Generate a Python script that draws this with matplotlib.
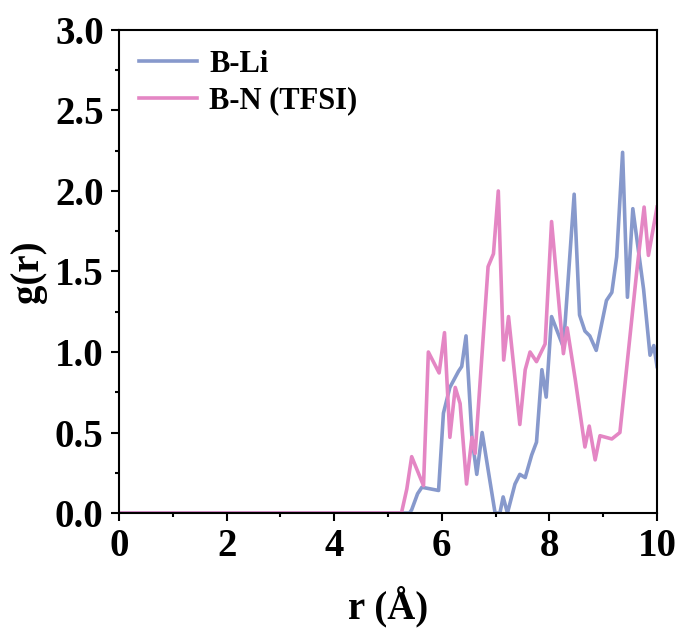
import matplotlib.pyplot as plt
from matplotlib.ticker import MultipleLocator

# B-Li radial distribution
r_li = [0, 5.40, 5.44, 5.55, 5.63, 5.94, 6.03, 6.15, 6.31, 6.37, 6.45, 6.56, 6.65,
        6.75, 6.86, 6.99, 7.08, 7.14, 7.22, 7.36, 7.45, 7.55, 7.67, 7.76, 7.86,
        7.94, 8.04, 8.26, 8.46, 8.56, 8.66, 8.75, 8.87, 9.06, 9.16, 9.25, 9.36,
        9.45, 9.55, 9.75, 9.87, 9.94, 10.0]
g_li = [0, 0, 0.02, 0.12, 0.16, 0.14, 0.62, 0.78, 0.88, 0.91, 1.10, 0.47, 0.24,
        0.50, 0.27, 0.0, 0.0, 0.10, 0.0, 0.18, 0.24, 0.22, 0.36, 0.44, 0.89,
        0.72, 1.22, 1.03, 1.98, 1.23, 1.13, 1.10, 1.01, 1.32, 1.37, 1.59, 2.24,
        1.34, 1.89, 1.39, 0.98, 1.04, 0.91]

# B-N (TFSI)
r_n = [0, 5.25, 5.35, 5.44, 5.66, 5.75, 5.95, 6.05, 6.15, 6.25, 6.34, 6.46, 6.56,
       6.62, 6.86, 6.96, 7.05, 7.15, 7.24, 7.45, 7.55, 7.64, 7.76, 7.92, 8.04,
       8.26, 8.33, 8.48, 8.66, 8.74, 8.85, 8.94, 9.16, 9.31, 9.62, 9.76, 9.84, 10.0]
g_n = [0, 0, 0.15, 0.35, 0.17, 1.0, 0.87, 1.12, 0.47, 0.78, 0.68, 0.18, 0.47,
       0.37, 1.53, 1.61, 2.0, 0.95, 1.22, 0.55, 0.89, 1.0, 0.94, 1.05, 1.81,
       0.99, 1.15, 0.83, 0.41, 0.54, 0.33, 0.48, 0.46, 0.50, 1.49, 1.90, 1.60, 1.90]

plt.rcParams['font.family'] = ['Liberation Serif', 'DejaVu Serif']
plt.rcParams['font.weight'] = 'bold'

fig = plt.figure(figsize=(6.81, 6.35), dpi=100)
ax = fig.add_axes([0.1747, 0.1921, 0.7901, 0.7607])

ax.plot(r_li, g_li, color='#8799cc', lw=2.6, label='B-Li', solid_joinstyle='round')
ax.plot(r_n, g_n, color='#e486c4', lw=2.6, label='B-N (TFSI)', solid_joinstyle='round')

ax.set_xlim(0, 10)
ax.set_ylim(0, 3.0)
ax.xaxis.set_major_locator(MultipleLocator(2))
ax.xaxis.set_minor_locator(MultipleLocator(1))
ax.yaxis.set_major_locator(MultipleLocator(0.5))
ax.yaxis.set_minor_locator(MultipleLocator(0.25))
ax.yaxis.set_major_formatter(plt.FormatStrFormatter('%.1f'))

ax.tick_params(which='major', direction='out', length=6, width=1.5, labelsize=28, pad=5)
ax.tick_params(which='minor', direction='out', length=3, width=1.5)
for s in ax.spines.values():
    s.set_linewidth(1.5)

ax.set_xlabel('r (Å)', fontsize=28, fontweight='bold', labelpad=15)
ax.set_ylabel('g(r)', fontsize=28, fontweight='bold', labelpad=6)

ax.legend(loc='upper left', bbox_to_anchor=(0.0, 1.0), frameon=False,
          fontsize=22, handlelength=1.9, handletextpad=0.4,
          borderaxespad=0.25, labelspacing=0.25)

fig.savefig('out.png', dpi=100)
